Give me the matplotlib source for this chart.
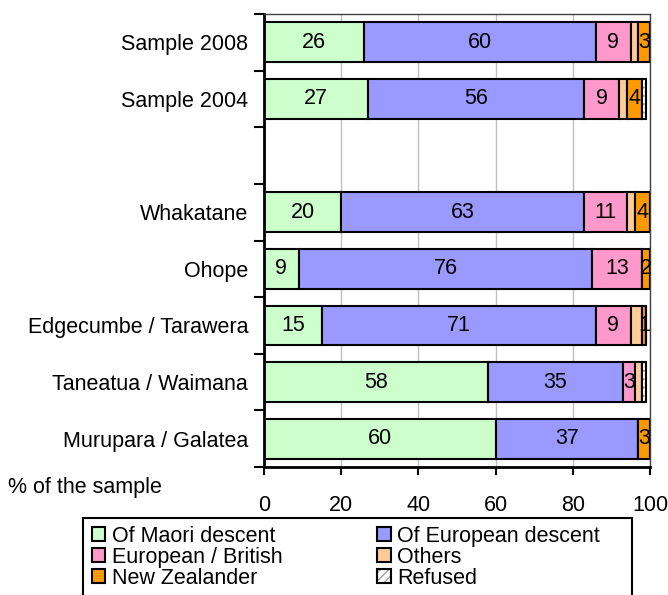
import matplotlib
matplotlib.use("Agg")
import matplotlib.pyplot as plt
import numpy as np
from matplotlib.patches import Patch, Rectangle
from matplotlib.legend_handler import HandlerTuple

plt.rcParams['font.family'] = ['Liberation Sans', 'DejaVu Sans']

categories = ["Sample 2008", "Sample 2004", "", "Whakatane", "Ohope",
              "Edgecumbe / Tarawera", "Taneatua / Waimana", "Murupara / Galatea"]
maori    = [26, 27, 0, 20, 9, 15, 58, 60]
european = [60, 56, 0, 63, 76, 71, 35, 37]
eur_brit = [9, 9, 0, 11, 13, 9, 3, 0]
others   = [2, 2, 0, 2, 0, 3, 2, 0]
nz       = [3, 4, 0, 4, 2, 1, 0, 3]
refused  = [0, 1, 0, 0, 0, 0, 1, 0]

series_names = ["Of Maori descent", "Of European descent", "European / British",
                "Others", "New Zealander", "Refused"]
colors = ["#CCFFCC", "#9999FF", "#FF99CC", "#FFCC99", "#FF9900", "#FFFFFF"]
labelled = [True, True, True, False, True, False]
xticks = [0, 20, 40, 60, 80, 100]
xlabel = "% of the sample"

FS = 15.5
fig = plt.figure(figsize=(6.68, 5.95), dpi=100)
ax = fig.add_axes([264/668, 1-467/595, (650-264)/668, (467-14)/595])

y = np.arange(len(categories))
data = [maori, european, eur_brit, others, nz, refused]
left = np.zeros(len(categories))
h = 0.7
for vals, col, name, lab in zip(data, colors, series_names, labelled):
    vals = np.array(vals, dtype=float)
    if name == "Refused":
        ax.barh(y, vals, left=left, height=h, color="white", hatch="....",
                edgecolor="#A0A0A0", linewidth=0, zorder=2)
        ax.barh(y, vals, left=left, height=h, color="none",
                edgecolor="black", linewidth=1.5, zorder=3)
    else:
        ax.barh(y, vals, left=left, height=h, color=col,
                edgecolor="black", linewidth=1.5, zorder=2)
    if lab:
        for yi, (l, v) in enumerate(zip(left, vals)):
            if v > 0:
                ax.text(l + v/2, yi, f"{int(v)}", ha="center", va="center",
                        fontsize=FS, zorder=4)
    left += vals

ax.set_xlim(0, 100)
ax.set_ylim(len(categories) - 0.5, -0.5)
ax.set_xticks(xticks)
ax.set_xticklabels([str(t) for t in xticks], fontsize=FS)
ax.tick_params(axis='x', direction='out', length=6, width=1.5, pad=14)
ax.set_yticks(y)
ax.set_yticklabels(categories, fontsize=FS)
ax.tick_params(axis='y', which='major', length=0, pad=11.5)
ax.set_yticks(np.arange(-0.5, len(categories)), minor=True)
ax.tick_params(axis='y', which='minor', length=7, width=1.5, direction='out')
ax.xaxis.grid(True, color="#C0C0C0", linewidth=1, zorder=0)
ax.set_axisbelow(True)
for s in ['left', 'bottom']:
    ax.spines[s].set_linewidth(2)
for s in ['top', 'right']:
    ax.spines[s].set_linewidth(1)
    ax.spines[s].set_color("#404040")

fig.text(8/668, 1-487/595, xlabel, fontsize=FS, ha="left", va="center")

handles = []
for name, col in zip(series_names, colors):
    if name == "Refused":
        handles.append((Patch(facecolor="white", edgecolor="#A0A0A0", hatch="////", linewidth=0),
                        Patch(facecolor="none", edgecolor="black", linewidth=1.5)))
    else:
        handles.append(Patch(facecolor=col, edgecolor="black", linewidth=1.5))
order = [0, 2, 4, 1, 3, 5]
leg = fig.legend([handles[i] for i in order], [series_names[i] for i in order],
                 ncol=2, loc="upper left", bbox_to_anchor=(92/668, 1-526/595),
                 fontsize=FS, frameon=False,
                 handlelength=0.62, handleheight=0.62, handletextpad=0.3,
                 labelspacing=0.0, columnspacing=4.4, borderpad=0.0,
                 borderaxespad=0,
                 handler_map={tuple: HandlerTuple(ndivide=1, pad=0)})
fig.patches.append(Rectangle((83/668, -0.02), (632-83)/668, 1-518/595 + 0.02,
                             transform=fig.transFigure, facecolor="none",
                             edgecolor="black", linewidth=1.5))

fig.savefig("out.png", dpi=100)
